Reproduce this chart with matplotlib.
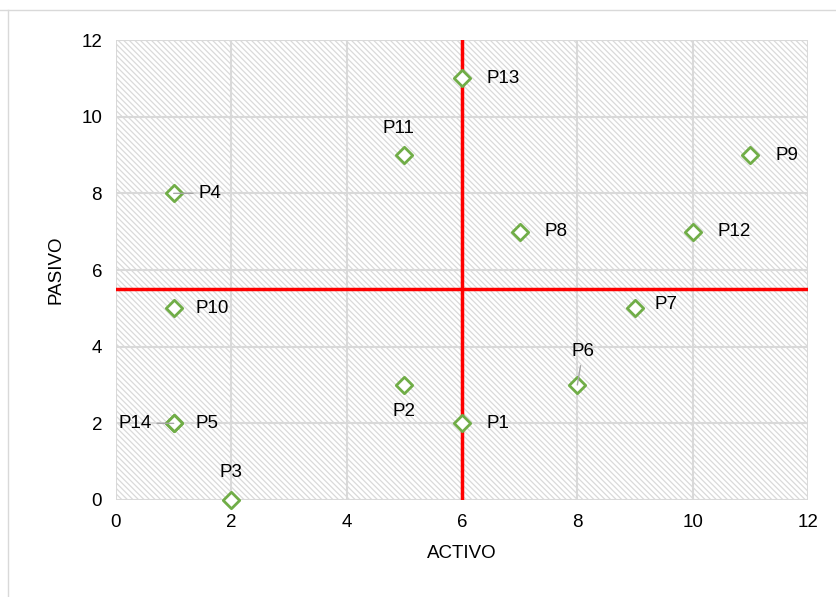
import matplotlib.pyplot as plt
from matplotlib.lines import Line2D

plt.rcParams['font.family'] = ['Liberation Sans', 'DejaVu Sans']
plt.rcParams['hatch.color'] = '#dadada'
plt.rcParams['hatch.linewidth'] = 0.9

labels = ['P1', 'P2', 'P3', 'P4', 'P5', 'P6', 'P7', 'P8', 'P9', 'P10',
          'P11', 'P12', 'P13', 'P14']
activo = [6, 5, 2, 1, 1, 8, 9, 7, 11, 1, 5, 10, 6, 1]
pasivo = [2, 3, 0, 8, 2, 3, 5, 7, 9, 5, 9, 7, 11, 2]
# label placement (dx, dy in points, ha, va, leader line)
placement = {
    'P1': (18, 0, 'left', 'center', False),
    'P2': (0, -19, 'center', 'center', False),
    'P3': (0, 20, 'center', 'center', False),
    'P4': (18, 0, 'left', 'center', True),
    'P5': (16, 0, 'left', 'center', False),
    'P6': (4, 24, 'center', 'center', True),
    'P7': (14, 3, 'left', 'center', False),
    'P8': (18, 0, 'left', 'center', False),
    'P9': (18, 0, 'left', 'center', False),
    'P10': (16, 0, 'left', 'center', False),
    'P11': (-4, 19, 'center', 'center', False),
    'P12': (18, 0, 'left', 'center', False),
    'P13': (18, 0, 'left', 'center', False),
    'P14': (-16, 0, 'right', 'center', True),
}
v_line = 6
h_line = 5.5

fig = plt.figure(figsize=(8.37, 5.97), dpi=100)
ax = fig.add_axes([116 / 837, 1 - 500 / 597, 692 / 837, 460 / 597])

ax.add_patch(plt.Rectangle((0, 0), 12, 12, facecolor='white', edgecolor='#dadada',
                           hatch='\\' * 6, linewidth=0, zorder=0))
ax.set_xlim(0, 12)
ax.set_ylim(0, 12)
ax.set_xticks(range(0, 13, 2))
ax.set_yticks(range(0, 13, 2))
ax.grid(True, color='#d9d9d9', linewidth=1.5, zorder=1)
ax.set_axisbelow(True)
for s in ax.spines.values():
    s.set_visible(False)
ax.tick_params(length=0, labelsize=13.5, pad=10)

ax.axvline(v_line, color='#ff0000', linewidth=2.5, zorder=2)
ax.axhline(h_line, color='#ff0000', linewidth=2.5, zorder=2)

ax.scatter(activo, pasivo, marker='D', s=70, facecolors='white',
           edgecolors='#70ad47', linewidths=2, zorder=4, clip_on=False)

for lab, x, y in zip(labels, activo, pasivo):
    dx, dy, ha, va, leader = placement[lab]
    if leader:
        ax.annotate(lab, (x, y), xytext=(dx, dy), textcoords='offset points',
                    ha=ha, va=va, fontsize=13.5, zorder=5,
                    arrowprops=dict(arrowstyle='-', color='#a6a6a6', lw=1,
                                    shrinkA=2, shrinkB=0))
    else:
        ax.annotate(lab, (x, y), xytext=(dx, dy), textcoords='offset points',
                    ha=ha, va=va, fontsize=13.5, zorder=5)

ax.set_xlabel('ACTIVO', fontsize=13.5, labelpad=10)
ax.set_ylabel('PASIVO', fontsize=13.5, labelpad=12)

# chart frame
fig.add_artist(Line2D([0, 1], [1 - 10 / 597] * 2, color='#d9d9d9', lw=1))
fig.add_artist(Line2D([8 / 837] * 2, [0, 1 - 10 / 597], color='#d9d9d9', lw=1))

fig.savefig('out.png', dpi=100)
